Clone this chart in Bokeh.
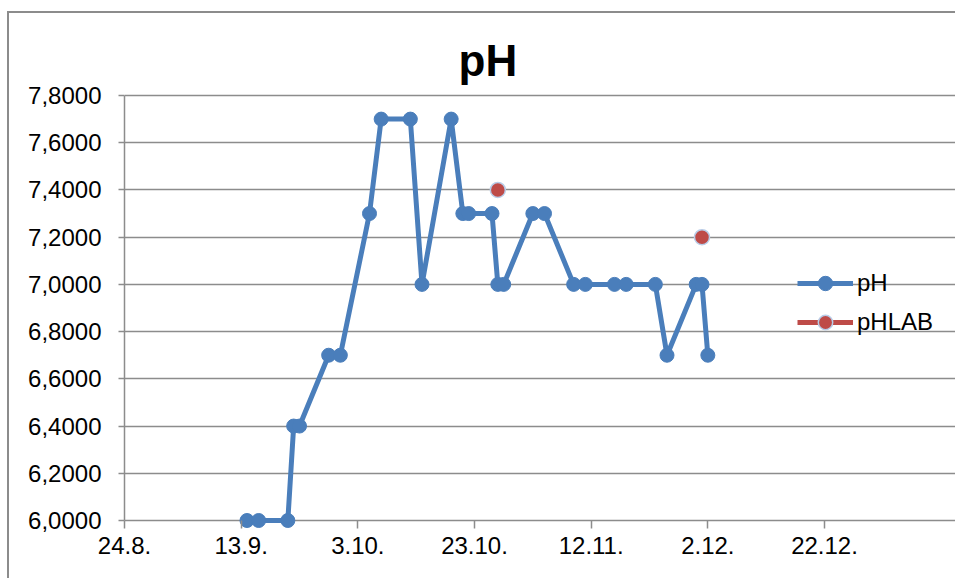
import pandas as pd
from bokeh.plotting import figure
from bokeh.models import Range1d, FixedTicker, Legend, LegendItem, ColumnDataSource
from bokeh.embed import file_html
from bokeh.resources import INLINE

# ---------------- data ----------------
axis_start = "2012-08-24"
ph_dates = ["2012-09-14", "2012-09-16", "2012-09-21", "2012-09-22", "2012-09-23", "2012-09-28",
            "2012-09-30", "2012-10-05", "2012-10-07", "2012-10-12", "2012-10-14", "2012-10-19",
            "2012-10-21", "2012-10-22", "2012-10-26", "2012-10-27", "2012-10-28", "2012-11-02",
            "2012-11-04", "2012-11-09", "2012-11-11", "2012-11-16", "2012-11-18", "2012-11-23",
            "2012-11-25", "2012-11-30", "2012-12-01", "2012-12-02"]
ph_values = [6.0, 6.0, 6.0, 6.4, 6.4, 6.7, 6.7, 7.3, 7.7, 7.7, 7.0, 7.7, 7.3, 7.3,
             7.3, 7.0, 7.0, 7.3, 7.3, 7.0, 7.0, 7.0, 7.0, 7.0, 6.7, 7.0, 7.0, 6.7]
lab_dates = ["2012-10-27", "2012-12-01"]
lab_values = [7.4, 7.2]
x_tick_dates = ["2012-08-24", "2012-09-13", "2012-10-03", "2012-10-23", "2012-11-12",
                "2012-12-02", "2012-12-22"]
x_tick_labels = ["24.8.", "13.9.", "3.10.", "23.10.", "12.11.", "2.12.", "22.12."]
y_ticks = [6.0, 6.2, 6.4, 6.6, 6.8, 7.0, 7.2, 7.4, 7.6, 7.8]
y_tick_labels = ["6,0000", "6,2000", "6,4000", "6,6000", "6,8000", "7,0000", "7,2000",
                 "7,4000", "7,6000", "7,8000"]
series_names = ["pH", "pHLAB"]

# ---------------- helpers ----------------
t0 = pd.Timestamp(axis_start)
def day(d):
    return (pd.Timestamp(d) - t0).days

ph_x = [day(d) for d in ph_dates]
lab_x = [day(d) for d in lab_dates]
tick_x = [day(d) for d in x_tick_dates]

# lab line: separate points (gaps between them)
lab_line_x, lab_line_y = [], []
for i, (xx, yy) in enumerate(zip(lab_x, lab_values)):
    if i:
        lab_line_x.append(float("nan"))
        lab_line_y.append(float("nan"))
    lab_line_x.append(xx)
    lab_line_y.append(yy)

# ---------------- layout (page px) ----------------
PAGE_W, PAGE_H = 957, 580
OX, OY = 9, 13                      # canvas origin inside the outer chart border
W, H = PAGE_W - OX, PAGE_H - OY
x0_px, x1_px = 124 - OX, 824 - OX   # first / last x tick
y_top_px, y_bot_px = 95 - OY, 520 - OY
frame_top, frame_bottom = y_top_px - 2, y_bot_px + 8
ymin, ymax = y_ticks[0], y_ticks[-1]
upp = (ymax - ymin) / (y_bot_px - y_top_px)
y_end = ymax + (y_top_px - frame_top) * upp
y_start = ymin - (frame_bottom - y_bot_px) * upp
dpp = (tick_x[-1] - tick_x[0]) / (x1_px - x0_px)
x_end = tick_x[-1] + (W - x1_px) * dpp

BLUE = "#4a7ebb"
RED = "#be4b48"
GRID = "#8c8c8c"
FONT = "Liberation Sans"

p = figure(width=W, height=H, output_backend="svg", toolbar_location=None,
           x_range=Range1d(tick_x[0], x_end), y_range=Range1d(y_start, y_end),
           min_border_left=x0_px, min_border_right=0,
           min_border_top=frame_top, min_border_bottom=H - frame_bottom)
p.margin = (OY - 2, 0, 0, OX - 2)
p.styles = {"border-left": f"2px solid {GRID}", "border-top": f"2px solid {GRID}"}
p.outline_line_color = None
p.background_fill_color = "white"
p.border_fill_color = "white"

# title
p.title.text = "pH"
p.title.align = "left"
p.title.offset = 458 - 124
p.title.text_font = FONT
p.title.text_font_size = "44px"
p.title.text_font_style = "bold"
p.title.text_color = "black"
p.title.standoff = 18

# axes
p.xaxis.ticker = FixedTicker(ticks=tick_x)
p.xaxis.major_label_overrides = {t: l for t, l in zip(tick_x, x_tick_labels)}
p.xaxis.bounds = (tick_x[0], tick_x[-1])
p.yaxis.ticker = FixedTicker(ticks=y_ticks)
p.yaxis.major_label_overrides = {t: l for t, l in zip(y_ticks, y_tick_labels)}
p.yaxis.bounds = (ymin, ymax)
for ax in (p.xaxis, p.yaxis):
    ax.axis_line_color = GRID
    ax.axis_line_width = 1.5
    ax.major_tick_line_color = GRID
    ax.major_tick_line_width = 1.5
    ax.minor_tick_line_color = None
    ax.major_label_text_font = FONT
    ax.major_label_text_font_size = "24px"
    ax.major_label_text_color = "black"
p.xaxis.axis_line_color = None
p.xaxis.major_tick_in = frame_bottom - y_bot_px
p.xaxis.major_tick_out = 0
p.xaxis.major_label_standoff = 8
p.yaxis.major_tick_in = 0
p.yaxis.major_tick_out = 6
p.yaxis.major_label_standoff = 17

p.xgrid.visible = False
p.ygrid.ticker = FixedTicker(ticks=y_ticks)
p.ygrid.bounds = (tick_x[0], tick_x[-1])
p.ygrid.grid_line_color = GRID
p.ygrid.grid_line_width = 1.5

# series
ph_src = ColumnDataSource(dict(x=ph_x, y=ph_values))
lab_src = ColumnDataSource(dict(x=lab_x, y=lab_values))
lab_line_src = ColumnDataSource(dict(x=lab_line_x, y=lab_line_y))

ph_line = p.line("x", "y", source=ph_src, line_color=BLUE, line_width=5, line_join="round")
ph_pts = p.scatter("x", "y", source=ph_src, marker="circle", size=14,
                   fill_color=BLUE, line_color=BLUE, line_width=1)
lab_line = p.line("x", "y", source=lab_line_src, line_color=RED, line_width=5)
lab_pts = p.scatter("x", "y", source=lab_src, marker="circle", size=15,
                    fill_color=RED, line_color="#b9cde8", line_width=1.5)

leg_left = 797 - OX - x0_px
glyph_h, spacing = 36, 3
leg_top = 283 - glyph_h // 2 - OY
leg_h = 2 * glyph_h + spacing
legend = Legend(items=[LegendItem(label=series_names[0], renderers=[ph_line, ph_pts]),
                       LegendItem(label=series_names[1], renderers=[lab_line, lab_pts])],
                location=(leg_left, frame_bottom - (leg_top + leg_h)),
                glyph_width=56, glyph_height=glyph_h, spacing=spacing, padding=0, margin=0,
                label_standoff=4, label_text_font=FONT, label_text_font_size="24px",
                label_text_color="black", background_fill_alpha=0, border_line_color=None)
p.add_layout(legend)

open("out.html", "w").write(file_html(p, INLINE))
